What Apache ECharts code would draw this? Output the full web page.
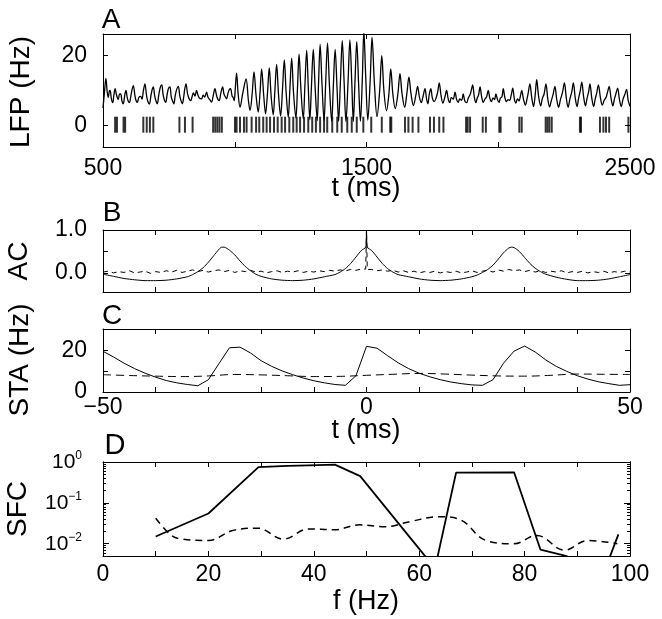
<!DOCTYPE html>
<html><head><meta charset="utf-8">
<script src="https://cdn.jsdelivr.net/npm/echarts@6/dist/echarts.min.js"></script>
<style>html,body{margin:0;padding:0;background:#fff}#c{width:662px;height:619px}</style>
</head><body><div id="c"></div>
<script>
// ---------- Panel A : LFP trace and spike raster ----------
const lfpT = [500,505,511,516,520,524,527,532,537,541,546,551,558,563,567,572,577,582,587,593,600,606,610,615,621,625,630,636,643,648,653,659,665,670,676,682,687,691,696,701,706,711,717,723,728,733,738,743,748,754,759,764,769,774,780,786,791,796,801,806,810,815,821,827,833,838,843,849,855,860,866,874,880,886,893,899,906,912,918,925,930,935,941,947,954,959,964,969,974,979,984,990,994,998,1002,1007,
1013,1020,1031,1043,1052,1058,1066,1073,1081,1089,1096,1102,1110,1117,1124,1131,1138,1146,1152,1159,1166,1174,1181,1188,1195,1203,1209,1216,1223,1232,1238,1244,1251,1260,1266,1273,1279,1285,1291,1298,1305,1313,1318,1324,1331,1339,1345,1352,1359,1368,1374,1381,1388,1394,1401,1408,1415,1422,1430,1437,1444,1450,1456,1463,1470,1477,1484,1490,1497,1505,1514,1521,1530,1540,1550,1558,1566,1576,1585,1592,1600,1609,1619,1627,1635,1645,1653,1661,1669,1678,1687,1694,1701,
1708,1715,1722,1728,1733,1738,1744,1750,1757,1763,1770,1776,1783,1790,1797,1804,1810,1816,1822,1829,1836,1842,1848,1854,1861,1867,1873,1880,1886,1893,1897,1903,1909,1915,1920,1925,1931,1937,1943,1949,1956,1962,1968,1974,1980,1986,1991,1997,2003,2008,2014,2019,2025,2031,2037,2043,2049,2055,2061,2067,2073,2079,2084,2089,2096,2103,2109,2114,2120,2127,2134,2140,2146,2153,2161,2167,2174,2181,2188,2195,2201,2208,2215,2222,2229,2236,2244,2251,2258,2265,2272,2279,2285,2292,2299,2305,2311,2317,2324,2331,2337,2343,2348,2355,2362,2368,2374,2380,2388,2395,2402,2409,2415,2421,2428,2435,2441,2447,2453,2460,2467,2473,2480,2487,2493,2500];
const lfpV = [5.0,9.0,13.5,9.5,8.0,9.8,10.0,7.5,6.5,8.5,10.5,8.8,7.4,9.0,9.0,7.0,6.2,8.4,10.0,7.6,6.5,8.5,10.2,11.4,8.6,7.2,6.6,8.0,8.3,7.5,9.8,11.9,8.7,6.9,6.1,8.6,10.4,11.0,8.5,7.0,6.2,8.4,10.8,11.6,8.8,7.3,6.6,8.6,10.5,11.0,8.2,7.0,6.2,8.5,10.4,11.2,8.6,7.1,6.2,8.0,10.3,11.9,9.0,7.6,7.1,8.2,9.3,8.4,10.0,8.8,7.8,7.6,8.7,8.1,9.5,8.0,7.3,6.7,8.4,10.5,8.9,7.6,7.1,9.2,11.0,9.0,8.2,7.6,9.1,10.2,10.5,8.4,8.0,7.1,10.5,15.0,
9.0,5.2,9.5,13.3,7.0,4.3,9.0,15.3,8.5,3.8,9.5,16.2,8.5,3.3,9.0,16.5,8.5,3.0,9.5,17.5,9.0,2.7,10.0,18.8,9.5,2.4,10.0,19.2,9.5,2.1,10.5,20.4,10.5,1.9,11.0,21.5,11.0,1.6,11.0,21.8,11.0,1.4,12.0,23.2,12.0,1.4,12.0,23.6,12.0,1.2,11.0,21.8,11.0,1.2,12.5,24.3,12.5,1.1,12.5,24.5,12.5,1.1,12.0,24.0,12.0,1.2,13.0,27.0,14.0,1.5,13.0,25.2,12.0,2.5,10.0,20.0,10.0,4.2,9.0,16.2,9.0,4.8,9.0,14.8,9.0,5.2,9.0,13.8,9.0,5.7,8.5,11.2,8.0,
6.5,8.5,10.5,7.5,6.2,8.8,10.5,7.8,6.8,7.6,9.5,12.2,8.5,6.4,8.0,10.0,7.6,6.5,8.0,7.5,9.5,7.4,6.6,7.6,7.2,9.0,7.0,6.5,7.8,8.8,9.8,11.6,8.2,6.5,7.8,8.6,11.0,8.2,6.6,7.5,8.2,10.0,7.8,6.8,7.9,7.4,9.0,7.4,6.6,7.8,8.2,10.5,8.0,6.8,7.4,7.2,8.6,10.7,7.6,6.4,7.6,7.0,8.4,10.0,7.4,5.8,7.5,9.4,11.9,8.0,5.4,8.6,13.1,8.4,5.6,7.6,9.0,11.9,7.6,5.3,7.0,8.8,11.2,7.4,5.2,7.4,9.5,12.2,8.0,5.2,7.6,9.6,12.2,8.0,5.4,7.8,9.8,12.4,8.2,5.6,7.8,9.6,11.9,7.8,5.4,7.6,9.4,11.6,7.8,5.8,7.2,8.0,9.6,11.2,7.8,5.6,7.6,9.2,10.7,7.4,5.4,7.4,8.8,10.3,7.2,5.5];
const spikeT = [546,553,578,584,653,666,678,691,790,811,840,918,926,934,942,951,1001,1007,1020,1035,1045,1064,1081,1093,1108,1121,1134,1149,1163,1178,1191,1207,1222,1235,1248,1263,1279,1294,1308,1324,1339,1351,1370,1389,1406,1427,1444,1463,1488,1518,1558,1590,1594,1646,1659,1675,1697,1741,1756,1776,1792,1878,1884,1893,1941,1953,2004,2009,2080,2089,2180,2187,2194,2203,2310,2314,2386,2399,2409,2421,2494];
const aXLabels = [500,1500,2500];
const aXTicks = [1000,1500,2000];
const aYLabels = [0,20];

// ---------- Panel B : autocorrelation ----------
const acT = [-50,-48,-46,-44,-42,-40,-38,-36,-34,-33,-32,-31,-30,-29,-28,-27.5,-27,-26,-25,-24,-23,-22,-21,-20,-18,-16,-14,-12,-10,-8,-6,-5,-4,-3,-2,-1,-0.15,0,0.15,1,2,3,4,5,6,8,10,12,14,16,18,20,21,22,23,24,25,26,27,27.5,28,29,30,31,32,33,34,36,38,40,42,44,46,48,50];
const acSolid = [-0.03,-0.08,-0.13,-0.16,-0.18,-0.18,-0.17,-0.14,-0.09,-0.04,0.03,0.12,0.25,0.40,0.55,0.60,0.60,0.53,0.42,0.28,0.15,0.05,-0.03,-0.08,-0.14,-0.17,-0.18,-0.17,-0.14,-0.09,-0.04,0.02,0.10,0.22,0.37,0.52,0.60,1.0,0.60,0.52,0.37,0.22,0.10,0.02,-0.04,-0.09,-0.14,-0.17,-0.18,-0.17,-0.14,-0.09,-0.05,0.01,0.08,0.18,0.32,0.47,0.58,0.60,0.59,0.50,0.36,0.22,0.11,0.03,-0.03,-0.10,-0.15,-0.18,-0.18,-0.17,-0.14,-0.09,-0.04];
const acDashT = [-50,-49,-48,-47,-46,-45,-44,-43,-42,-41,-40,-39,-38,-37,-36,-35,-34,-33,-32,-31,-30,-29,-28,-27,-26,-25,-24,-23,-22,-21,-20,-19,-18,-17,-16,-15,-14,-13,-12,-11,-10,-9,-8,-7,-6,-5,-4,-3,-2,-1,-0.15,0,0.15,1,2,3,4,5,6,7,8,9,10,11,12,13,14,15,16,17,18,19,20,21,22,23,24,25,26,27,28,29,30,31,32,33,34,35,36,37,38,39,40,41,42,43,44,45,46,47,48,49,50];
const acDash = [0.02,0.04,0.0,0.03,0.01,0.05,0.0,0.02,0.04,-0.01,0.03,0.01,0.05,0.02,0.06,0.01,0.04,0.07,0.03,0.06,0.02,0.05,0.07,0.03,0.06,0.01,0.05,0.03,0.06,0.02,0.04,0.0,0.03,0.05,0.01,0.04,0.02,0.05,0.01,0.04,0.02,0.05,0.03,0.06,0.04,0.07,0.05,0.08,0.06,0.09,0.09,1.0,0.08,0.08,0.05,0.07,0.04,0.06,0.02,0.05,0.01,0.04,0.0,0.03,0.01,0.04,0.0,0.03,0.01,0.04,0.0,0.02,0.05,0.01,0.04,0.06,0.02,0.07,0.04,0.08,0.05,0.07,0.03,0.06,0.02,0.05,0.01,0.04,0.02,0.05,0.0,0.03,0.01,0.04,0.0,0.03,0.01,0.04,0.0,0.03,0.01,0.04,0.02];
const bYLabels = [0,1];
const bYTicks = [0,0.5];

// ---------- Panel C : spike-triggered average ----------
const staT = [-50,-48,-46,-44,-42,-40,-38,-36,-34,-32,-30,-28,-26,-24,-22,-20,-18,-16,-14,-12,-10,-8,-6,-4,-2,0,2,4,6,8,10,12,14,16,18,20,22,24,26,28,30,32,34,36,38,40,42,44,46,48,50];
const staSolid = [19.5,16.8,13.8,11.2,9.0,7.1,5.5,4.4,3.6,3.0,5.9,13.6,21.2,21.5,18.7,15.0,12.3,10.1,8.3,6.7,5.4,4.4,3.6,3.2,7.8,21.9,21.0,17.4,14.0,11.2,9.0,7.3,5.9,4.8,4.0,3.4,3.2,5.9,13.8,19.6,22.0,19.2,15.4,12.3,9.9,7.8,6.2,4.9,4.0,3.2,3.5];
const staDashT = [-50,-45,-40,-35,-30,-25,-20,-15,-10,-5,0,5,10,15,20,25,30,35,40,45,50];
const staDash = [8.3,7.9,7.6,7.4,7.7,8.4,8.2,7.8,7.4,7.5,8.0,8.5,8.9,8.6,8.1,7.7,7.6,8.0,8.6,8.5,8.4];
const lagLabels = [-50,0,50];
const lagTicks = [-40,-30,-20,-10,0,10,20,30,40];
const cYLabels = [0,20];
const cYTicks = [10,20];

// ---------- Panel D : spike-field coherence (log scale) ----------
const sfcSolidF = [10,20,29.5,35,39,44,48.8,58.5,63,67,78,83,88,93,97.8];
const sfcSolid = [0.015,0.055,0.75,0.80,0.83,0.86,0.45,0.013,0.0025,0.55,0.56,0.0072,0.005,0.0004,0.017];
const sfcDashF = [10,13,15,20,24.6,29.4,34.2,39,43.9,48.7,53.5,58.3,63.9,67.9,72.7,78,82.3,87.6,92,97.6];
const sfcDash = [0.042,0.016,0.013,0.012,0.021,0.024,0.013,0.023,0.022,0.029,0.026,0.035,0.046,0.038,0.012,0.010,0.016,0.007,0.012,0.010];
const fLabels = [0,20,40,60,80,100];
const fTicks = [10,20,30,40,50,60,70,80,90];
const dYDecades = [0.01,0.1,1];
const dYMinor = [0.005,0.006,0.007,0.008,0.009,0.02,0.03,0.04,0.05,0.06,0.07,0.08,0.09,0.2,0.3,0.4,0.5,0.6,0.7,0.8,0.9];

// ---------- build ----------
const FONT = '"Liberation Sans", Arial, sans-serif';
const lg = Math.log10;
const axLine = {show:true, onZero:false, lineStyle:{color:'#000', width:1}};
function tick(vals, len){ return {show:true, inside:true, length:len||5, customValues:vals, lineStyle:{color:'#000', width:1}}; }
function lbl(vals, fmt, margin, extra){
  return Object.assign({show:true, customValues:vals, formatter:fmt, fontSize:23, fontFamily:FONT, color:'#000', margin:margin, showMinLabel:true, showMaxLabel:true}, extra||{});
}
const minus = v => v < 0 ? '\u2212' + (-v) : String(v);

const grids = [
  {left:103, right:32, top:34, height:113},
  {left:103, right:32, top:230, height:62},
  {left:103, right:32, top:329, height:63},
  {left:103, right:32, top:462, height:94}
];

function xPair(gi, min, max, ticks, labels, fmt, margin){
  return [
    {type:'value', gridIndex:gi, position:'bottom', min:min, max:max, axisLine:axLine, splitLine:{show:false},
     axisTick:tick(ticks), axisLabel: labels ? lbl(labels, fmt, margin) : {show:false}},
    {type:'value', gridIndex:gi, position:'top', min:min, max:max, axisLine:axLine, splitLine:{show:false},
     axisTick:tick(ticks), axisLabel:{show:false}}
  ];
}
function yPair(gi, min, max, ticks, labels, fmt, margin, extra, len){
  return [
    {type:'value', gridIndex:gi, position:'left', min:min, max:max, axisLine:axLine, splitLine:{show:false},
     axisTick:tick(ticks, len), axisLabel: labels ? lbl(labels, fmt, margin, extra) : {show:false}},
    {type:'value', gridIndex:gi, position:'right', min:min, max:max, axisLine:axLine, splitLine:{show:false},
     axisTick:tick(ticks, len), axisLabel:{show:false}}
  ];
}

const dMin = -2.30, dMax = 0.0;
const xAxes = [].concat(
  xPair(0, 500, 2500, aXTicks, aXLabels, v => String(v), 10),
  xPair(1, -50, 50, lagTicks, null),
  xPair(2, -50, 50, lagTicks, lagLabels, minus, 4),
  xPair(3, 0, 100, fTicks, fLabels, v => String(v), 7)
);
const yAxes = [].concat(
  yPair(0, -6.2, 26.2, aYLabels, aYLabels, v => String(v), 16),
  yPair(1, -0.445, 1.0, bYTicks, bYLabels, v => Number(v).toFixed(1), 16),
  yPair(2, 0, 30.2, cYTicks, cYLabels, v => String(v), 16),
  yPair(3, dMin, dMax, dYDecades.map(lg), dYDecades.map(lg),
        v => { const e = Math.round(v); return '{b|10}{s|' + minus(e) + '}'; }, 21,
        {rich:{b:{fontSize:21, fontFamily:FONT, color:'#000', lineHeight:24},
               s:{fontSize:12, fontFamily:FONT, color:'#000', verticalAlign:'top', lineHeight:12}}}, 6),
  yPair(3, dMin, dMax, dYMinor.map(lg), null, null, 0, null, 3)
);

const black = '#000';
const series = [
  {type:'line', xAxisIndex:0, yAxisIndex:0, data:lfpT.map((t,i)=>[t, lfpV[i]]), showSymbol:false, smooth:0.35,
   lineStyle:{color:black, width:1.3}},
  {type:'scatter', xAxisIndex:0, yAxisIndex:0, data:spikeT.map(t=>[t,0.2]), symbol:'rect', symbolSize:[2,16],
   itemStyle:{color:black}},
  {type:'line', xAxisIndex:2, yAxisIndex:2, data:acDashT.map((t,i)=>[t, acDash[i]]), showSymbol:false,
   lineStyle:{color:black, width:1, type:[5,4]}},
  {type:'line', xAxisIndex:2, yAxisIndex:2, data:acT.map((t,i)=>[t, acSolid[i]]), showSymbol:false, smooth:0.2,
   lineStyle:{color:black, width:1}},
  {type:'line', xAxisIndex:4, yAxisIndex:4, data:staDashT.map((t,i)=>[t, staDash[i]]), showSymbol:false, smooth:0.4,
   lineStyle:{color:black, width:1, type:[8,5]}},
  {type:'line', xAxisIndex:4, yAxisIndex:4, data:staT.map((t,i)=>[t, staSolid[i]]), showSymbol:false,
   lineStyle:{color:black, width:1}},
  {type:'line', xAxisIndex:6, yAxisIndex:6, data:sfcDashF.map((f,i)=>[f, lg(sfcDash[i])]), showSymbol:false, smooth:0.4,
   lineStyle:{color:black, width:1.5, type:[7,5]}},
  {type:'line', xAxisIndex:6, yAxisIndex:6, data:sfcSolidF.map((f,i)=>[f, lg(sfcSolid[i])]), showSymbol:false,
   lineStyle:{color:black, width:1.8}}
];

function txt(s, x, y, size, rot){
  return {type:'text', x:x, y:y, rotation:rot||0, silent:true,
    style:{text:s, fill:'#000', font:size + 'px ' + FONT, align:'center', verticalAlign:'middle'}};
}
const graphics = [
  txt('A', 111, 20, 28), txt('B', 112, 213, 28), txt('C', 112, 316, 28), txt('D', 115, 446, 29),
  txt('LFP (Hz)', 21, 92, 28, Math.PI/2), txt('AC', 19, 261, 28, Math.PI/2),
  txt('STA (Hz)', 20, 360, 28, Math.PI/2), txt('SFC', 18, 509, 28, Math.PI/2),
  txt('t (ms)', 366, 189, 27), txt('t (ms)', 366, 431, 27), txt('f (Hz)', 366, 602, 27)
];

const chart = echarts.init(document.getElementById('c'), null, {renderer:'canvas'});
chart.setOption({
  animation:false, backgroundColor:'#fff',
  grid:grids, xAxis:xAxes, yAxis:yAxes, series:series, graphic:graphics
});
</script></body></html>
